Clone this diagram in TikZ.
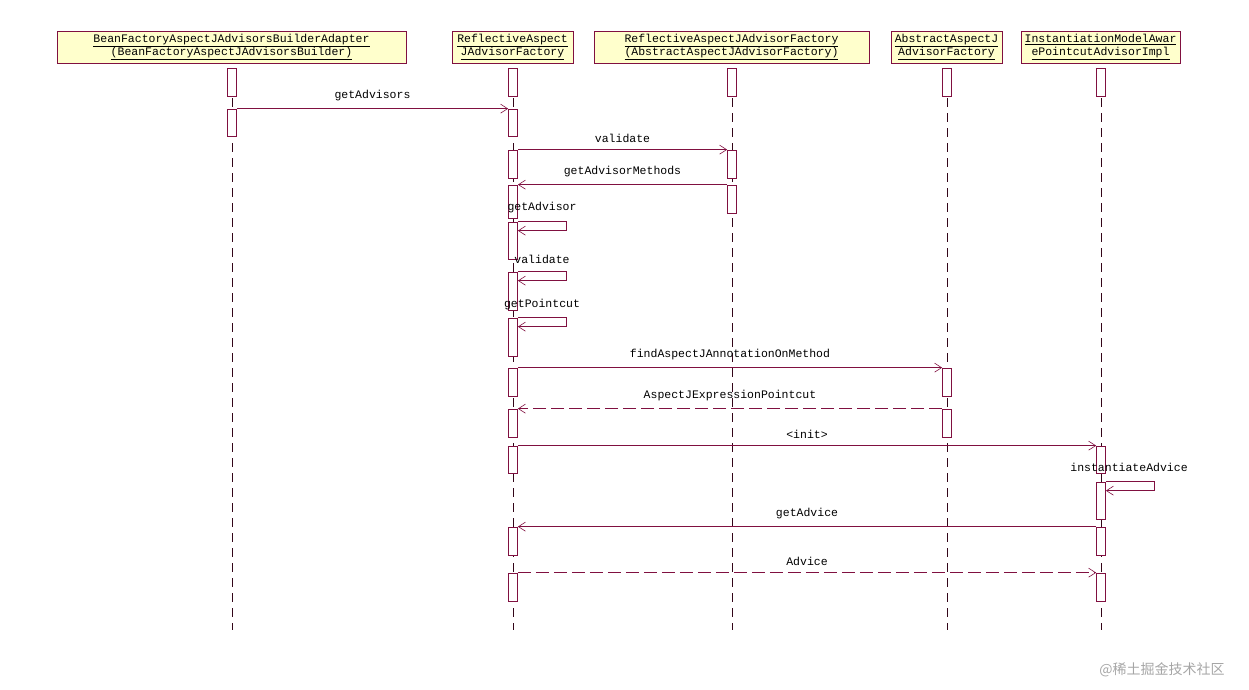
\documentclass[tikz,border=0pt]{standalone}
\usepackage{fontspec}
\setmainfont{Liberation Mono}
\newfontfamily\cjk{Noto Sans CJK SC}
\usetikzlibrary{arrows.meta,calc}
\definecolor{ln}{RGB}{128,16,64}
\definecolor{hdr}{RGB}{255,255,204}
\begin{document}
\begin{tikzpicture}[x=1pt,y=-1pt,
  font=\fontsize{11.5pt}{12pt}\selectfont,
  hd/.style={draw=ln,fill=hdr,inner sep=0pt,align=center,font=\fontsize{11.5pt}{12.5pt}\selectfont},
  act/.style={draw=ln,fill=white,minimum width=9pt,inner sep=0pt,line width=0.7pt},
  life/.style={ln!40!black,dash pattern=on 9pt off 6pt,line width=0.6pt},
  msg/.style={draw=ln,line width=0.7pt,-{Straight Barb[length=7pt,width=9pt,line width=0.6pt]}},
  rmsg/.style={msg,dash pattern=on 13pt off 5pt},
  lbl/.style={inner sep=1pt,anchor=south}]
\useasboundingbox (0,0) rectangle (1249,689);
% headers
\node[hd,minimum width=349pt,minimum height=32pt] (h1) at (231.5,47) {\underline{BeanFactoryAspectJAdvisorsBuilderAdapter}\\\underline{(BeanFactoryAspectJAdvisorsBuilder)}};
\node[hd,minimum width=121pt,minimum height=32pt] (h2) at (512.5,47) {\underline{ReflectiveAspect}\\\underline{JAdvisorFactory}};
\node[hd,minimum width=275pt,minimum height=32pt] (h3) at (731.5,47) {\underline{ReflectiveAspectJAdvisorFactory}\\\underline{(AbstractAspectJAdvisorFactory)}};
\node[hd,minimum width=111pt,minimum height=32pt] (h4) at (946.5,47) {\underline{AbstractAspectJ}\\\underline{AdvisorFactory}};
\node[hd,minimum width=159pt,minimum height=32pt] (h5) at (1100.5,47) {\underline{InstantiationModelAwar}\\\underline{ePointcutAdvisorImpl}};
% lifelines
\foreach \x/\n in {232/1,513/2,732/3,947/4,1101/5}{
  \coordinate (t\n) at (\x,68); \coordinate (b\n) at (\x,630);
  \draw[life] (t\n) -- (b\n);}
% activations
\newcommand\act[4]{\node[act,minimum height=#4-#3] (#1) at (#2,{(#3+#4)/2}) {};}
\act{A1}{232}{68}{96}\act{A2}{232}{109}{136}
\act{B1}{513}{68}{96}\act{B2}{513}{109}{136}\act{B3}{513}{150}{178}
\act{B4}{513}{185}{218}\act{B5}{513}{222}{259}\act{B6}{513}{272}{310}
\act{B7}{513}{318}{356}\act{B8}{513}{368}{396}\act{B9}{513}{409}{437}
\act{B10}{513}{446}{473}\act{B11}{513}{527}{555}\act{B12}{513}{573}{601}
\act{C1}{732}{68}{96}\act{C2}{732}{150}{178}\act{C3}{732}{185}{213}
\act{D1}{947}{68}{96}\act{D2}{947}{368}{396}\act{D3}{947}{409}{437}
\act{E1}{1101}{68}{96}\act{E2}{1101}{446}{473}\act{E3}{1101}{482}{519}
\act{E4}{1101}{527}{555}\act{E5}{1101}{573}{601}
% messages
\draw[msg] (A2.north east) -- node[lbl,above=6pt]{getAdvisors} (B2.north west);
\draw[msg] (B3.north east) -- node[lbl,above=6pt]{validate} (C2.north west);
\draw[msg] (C3.north west) -- node[lbl,above=6pt]{getAdvisorMethods} (B4.north east);
\draw[msg] (B5.north east) -- ++(48,0) -- ++(0,9) -- ($(B5.north east)+(0,9)$);
\node[lbl] at (542,214) {getAdvisor};
\draw[msg] (B6.north east) -- ++(48,0) -- ++(0,9) -- ($(B6.north east)+(0,9)$);
\node[lbl] at (542,265) {validate};
\draw[msg] (B7.north east) -- ++(48,0) -- ++(0,9) -- ($(B7.north east)+(0,9)$);
\node[lbl] at (542,311) {getPointcut};
\draw[msg] (B8.north east) -- node[lbl,above=6pt]{findAspectJAnnotationOnMethod} (D2.north west);
\draw[rmsg] (D3.north west) -- node[lbl,above=6pt]{AspectJExpressionPointcut} (B9.north east);
\draw[msg] (B10.north east) -- node[lbl,above=6pt]{<init>} (E2.north west);
\draw[msg] (E3.north east) -- ++(48,0) -- ++(0,9) -- ($(E3.north east)+(0,9)$);
\node[lbl] at (1129,473) {instantiateAdvice};
\draw[msg] (E4.north west) -- node[lbl,above=6pt]{getAdvice} (B11.north east);
\draw[rmsg] (B12.north east) -- node[lbl,above=6pt]{Advice} (E5.north west);
% watermark
\node[text=black!35,font=\cjk\fontsize{14pt}{16pt}\selectfont] (wm) at (1162,670) {@稀土掘金技术社区};
\end{tikzpicture}
\end{document}
